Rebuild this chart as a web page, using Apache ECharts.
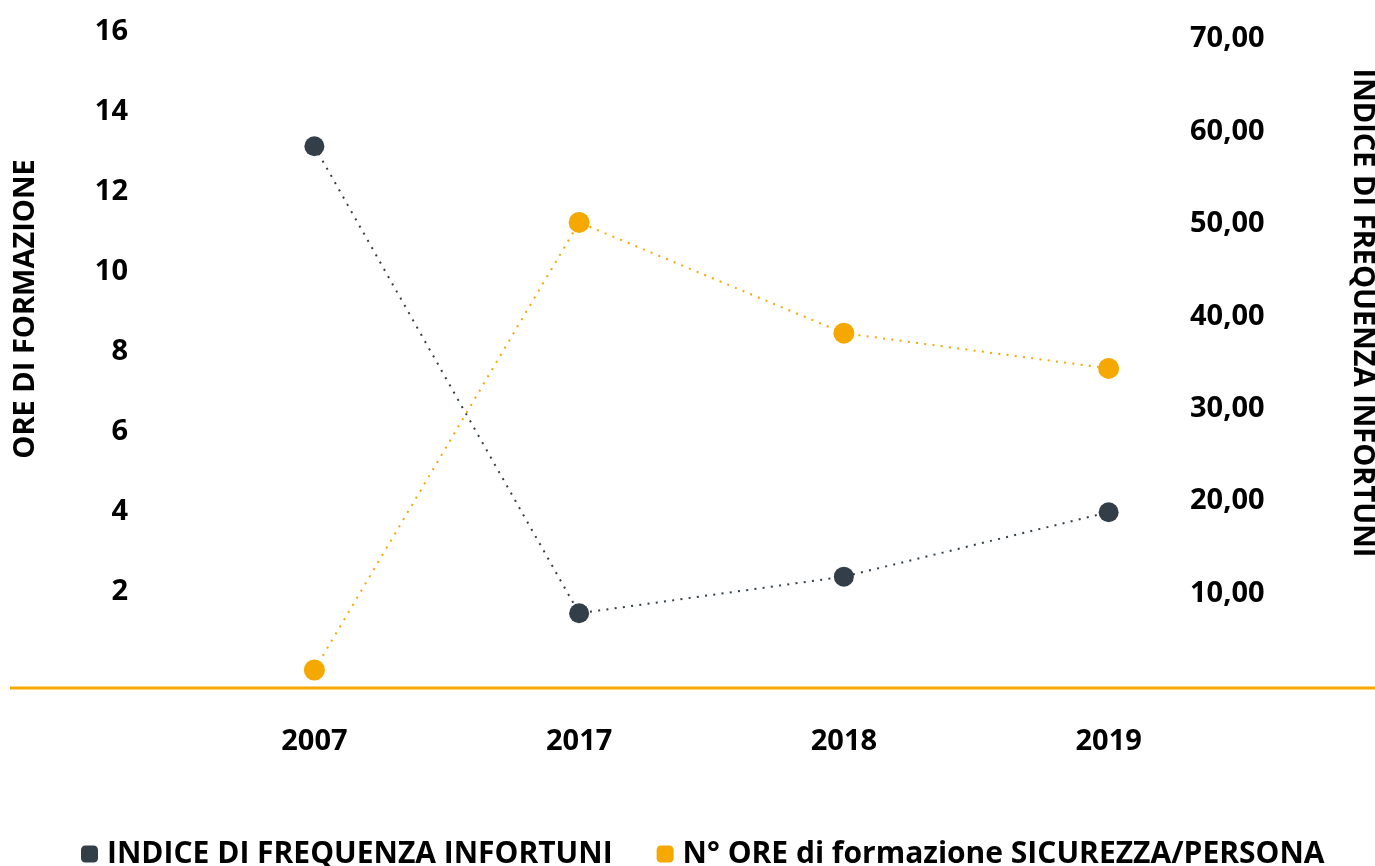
<!DOCTYPE html>
<html>
<head>
<meta charset="utf-8">
<script src="https://cdn.jsdelivr.net/npm/echarts@6/dist/echarts.min.js"></script>
<style>
  html, body { margin: 0; padding: 0; background: #fff; }
  #chart { width: 1375px; height: 866px; }
</style>
</head>
<body>
<div id="chart"></div>
<script>
var anni = ['2007', '2017', '2018', '2019'];
var oreFormazione = [0.05, 11.24, 8.47, 7.59];   // asse sinistro
var indiceFrequenza = [58.4, 7.87, 11.83, 18.8]; // asse destro
var nomeOre = 'N° ORE di formazione SICUREZZA/PERSONA';
var nomeIndice = 'INDICE DI FREQUENZA INFORTUNI';

var scuro = '#333F48';
var arancio = '#F5A800';
var tickFont = { fontFamily: 'Open Sans', fontWeight: 'bold', fontSize: 29, color: '#000' };

var chart = echarts.init(document.getElementById('chart'));
var option = {
  animation: false,
  grid: [
    { left: 182, right: 134, top: 32, bottom: 194 },
    { left: 182, right: 134, top: 39, bottom: 180 }
  ],
  xAxis: [
    { gridIndex: 0, type: 'category', data: anni, show: false },
    {
      gridIndex: 1, type: 'category', data: anni,
      axisLine: { show: false }, axisTick: { show: false },
      axisLabel: Object.assign({ margin: 41 }, tickFont)
    }
  ],
  yAxis: [
    {
      gridIndex: 0, type: 'value', min: 0, max: 16, interval: 2,
      splitLine: { show: false }, axisLine: { show: false }, axisTick: { show: false },
      axisLabel: Object.assign({ margin: 54, showMinLabel: false }, tickFont)
    },
    {
      gridIndex: 1, type: 'value', position: 'right', min: 0, max: 70, interval: 10,
      splitLine: { show: false }, axisLine: { show: false }, axisTick: { show: false },
      axisLabel: Object.assign({
        margin: -51, showMinLabel: false,
        formatter: function (v) { return v.toFixed(2).replace('.', ','); }
      }, tickFont)
    }
  ],
  legend: {
    left: 76, top: 834,
    data: [nomeIndice, nomeOre],
    icon: 'roundRect', itemWidth: 17, itemHeight: 17, itemGap: 44,
    textStyle: { fontFamily: 'Open Sans', fontWeight: 'bold', fontSize: 30, color: '#000', padding: [0, 0, 0, 4] }
  },
  graphic: [
    { type: 'line', shape: { x1: 10, y1: 688, x2: 1375, y2: 688 }, style: { stroke: arancio, lineWidth: 3 } },
    {
      type: 'text', x: 26, y: 309, rotation: Math.PI / 2,
      style: { text: 'ORE DI FORMAZIONE', fontFamily: 'Open Sans', fontWeight: 'bold', fontSize: 29,
               fill: '#000', align: 'center', verticalAlign: 'middle' }
    },
    {
      type: 'text', x: 1362, y: 313, rotation: -Math.PI / 2,
      style: { text: nomeIndice, fontFamily: 'Open Sans', fontWeight: 'bold', fontSize: 29,
               fill: '#000', align: 'center', verticalAlign: 'middle' }
    }
  ],
  series: [
    {
      name: nomeIndice, type: 'line', xAxisIndex: 1, yAxisIndex: 1,
      data: indiceFrequenza, symbol: 'circle', symbolSize: 20,
      itemStyle: { color: scuro },
      lineStyle: { color: scuro, width: 2, type: [2, 6.3] }
    },
    {
      name: nomeOre, type: 'line', xAxisIndex: 0, yAxisIndex: 0,
      data: oreFormazione, symbol: 'circle', symbolSize: 21,
      itemStyle: { color: arancio },
      lineStyle: { color: arancio, width: 2, type: [2, 6.3] }
    }
  ]
};
chart.setOption(option);
</script>
</body>
</html>
